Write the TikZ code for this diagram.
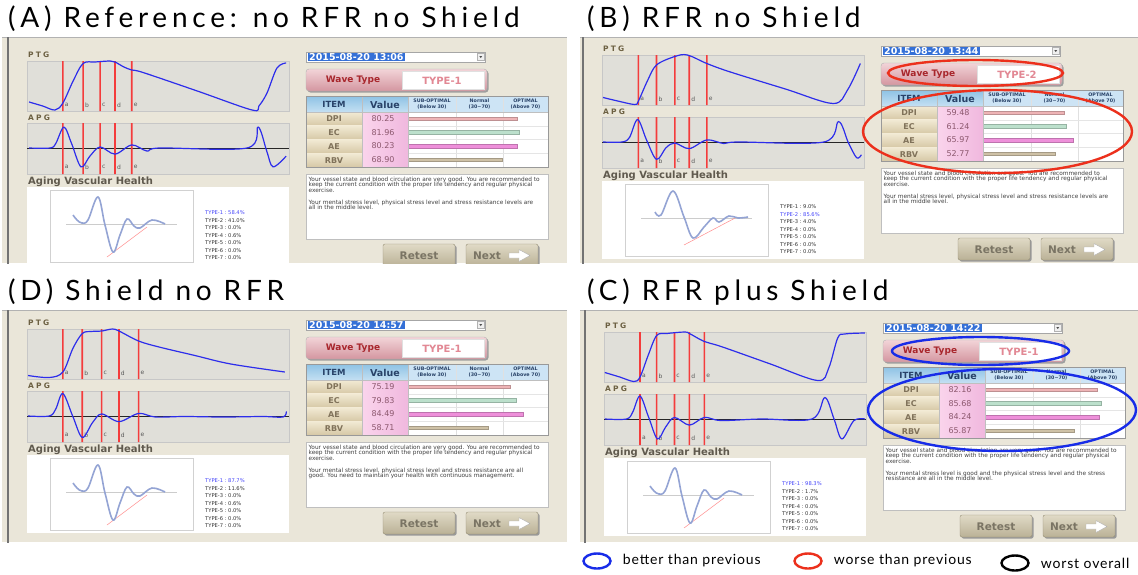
\documentclass[tikz,border=0pt]{standalone}
\usepackage{fontspec}
\setmainfont{DejaVu Sans}
\newfontfamily\titlefont[LetterSpace=17]{Lato}
\newfontfamily\legfont[LetterSpace=6]{Lato}
\usetikzlibrary{positioning,shapes.geometric}
\definecolor{framebg}{RGB}{234,230,217}
\definecolor{plotbg}{RGB}{224,223,217}
\definecolor{curve}{RGB}{45,45,235}
\definecolor{marker}{RGB}{244,60,60}
\definecolor{lbl}{RGB}{108,96,66}
\definecolor{lbltwo}{RGB}{96,90,78}
\definecolor{wave}{RGB}{148,164,212}
\definecolor{typeblue}{RGB}{70,70,250}
\definecolor{selblue}{RGB}{52,112,215}
\definecolor{wttop}{RGB}{242,212,216}
\definecolor{wtbot}{RGB}{212,150,160}
\definecolor{wtred}{RGB}{168,38,44}
\definecolor{wtpink}{RGB}{226,136,148}
\definecolor{hdrtop}{RGB}{142,194,228}
\definecolor{hdrbot}{RGB}{196,224,243}
\definecolor{hdrlight}{RGB}{205,228,245}
\definecolor{hdrink}{RGB}{40,66,104}
\definecolor{itemtop}{RGB}{242,234,212}
\definecolor{itembot}{RGB}{214,200,166}
\definecolor{itemink}{RGB}{128,114,90}
\definecolor{valleft}{RGB}{250,212,236}
\definecolor{valright}{RGB}{240,184,222}
\definecolor{valink}{RGB}{140,88,110}
\definecolor{dpibar}{RGB}{238,180,182}
\definecolor{ecbar}{RGB}{188,224,204}
\definecolor{aebar}{RGB}{238,144,218}
\definecolor{rbvbar}{RGB}{206,193,166}
\definecolor{btntop}{RGB}{224,218,198}
\definecolor{btnbot}{RGB}{186,177,150}
\definecolor{btnedge}{RGB}{150,142,118}
\definecolor{btnink}{RGB}{122,116,100}
\definecolor{annred}{RGB}{236,48,28}
\definecolor{annblue}{RGB}{24,44,232}
\tikzset{
  sect/.style={anchor=west,inner sep=0pt,text=lbl,font=\bfseries\fontsize{7.5}{7.5}\selectfont},
  plotbox/.style={fill=plotbg,draw=black!22,line width=0.8pt},
  markline/.style={fill=marker},
  peak/.style={anchor=west,inner sep=0pt,text=black!65,font=\fontsize{6}{6}\selectfont},
  pulse/.style={draw=curve,line width=1.2pt},
  typ/.style={anchor=west,inner sep=0pt,font=\fontsize{5.2}{5.2}\selectfont},
  cell/.style={inner sep=0pt,font=\bfseries\fontsize{8}{8}\selectfont},
  note/.style={anchor=north west,inner sep=0pt,align=left,text=black!75,font=\fontsize{5.8}{5.75}\selectfont},
  btnbox/.style={rounded corners=2pt,draw=btnedge,top color=btntop,bottom color=btnbot},
  btntxt/.style={inner sep=0pt,text=btnink,font=\bfseries\fontsize{10.5}{10.5}\selectfont},
  ttl/.style={anchor=west,inner sep=0pt,font=\titlefont\fontsize{28}{28}\selectfont},
  ring/.style={ellipse,draw,line width=2.4pt,inner sep=0pt},
  legtxt/.style={inner sep=0pt,font=\legfont\fontsize{14}{14}\selectfont}
}
% one screenshot of the analyser, data taken from \scr... macros
\newcommand\screen[2]{%
\begin{scope}[shift={#2}]
  \draw[black!55,line width=2pt] (8,-40) -- (8,300);
  % PTG and APG
  \node[sect] (#1ptg) at (28,55) {P\hspace{2.2pt}T\hspace{2.2pt}G};
  \draw[plotbox] (27,61) rectangle (289,111);
  \node[sect] (#1apg) at (28,118) {A\hspace{2.2pt}P\hspace{2.2pt}G};
  \draw[plotbox] (27,123) rectangle (289,174);
  \draw[black!85,line width=0.8pt] (27,148) -- (289,148);
  \foreach \m/\l in \scrmarks {
    \pgfmathsetmacro\mx{27+262*\m}
    \fill[markline] (\mx-0.8,61) rectangle (\mx+0.8,111) (\mx-0.8,123) rectangle (\mx+0.8,174);
    \node[peak] (#1u\l) at (\mx+1.8,105) {\l};
    \node[peak] (#1v\l) at (\mx+1.8,167) {\l};
  }
  \begin{scope}[shift={(27,61)},xscale=262,yscale=50]
    \edef\tmp{\noexpand\draw[pulse] plot[smooth,tension=0.55] coordinates {\scrptg};}\tmp
  \end{scope}
  \begin{scope}[shift={(27,123)},xscale=262,yscale=51]
    \edef\tmp{\noexpand\draw[pulse] plot[smooth,tension=0.55] coordinates {\scrapg};}\tmp
  \end{scope}
  % aging vascular health
  \node[sect,text=lbltwo,font=\bfseries\fontsize{10}{10}\selectfont] (#1age) at (28,182) {Aging Vascular Health};
  \fill[white] (27,187) rectangle (289,265);
  \draw[black!18,fill=white,line width=0.8pt] (50,190) rectangle (193,262);
  \draw[black!20] (66,224) -- (177,224);
  \edef\tmp{\noexpand\draw[red!45,line width=0.5pt] \scrtan;}\tmp
  \edef\tmp{\noexpand\draw[wave,line width=1.6pt] plot[smooth,tension=0.6] coordinates {\scrage};}\tmp
  \foreach \p [count=\k] in \scrpct {
    \ifnum\k=\scrbest\relax\def\tc{typeblue}\else\def\tc{black!80}\fi
    \node[typ,text=\tc] (#1type\k) at (205,{213+7.5*(\k-1)}) {TYPE-\k\ :\ \p\%};
  }
  % date and wave type
  \draw[black!35,fill=white] (306,52) rectangle (485,62);
  \node[anchor=west,inner xsep=1pt,inner ysep=0.6pt,fill=selblue,text=white,font=\bfseries\fontsize{9.5}{9.5}\selectfont] (#1date) at (308,57) {\scrdate};
  \draw[black!30,fill=black!6] (477.5,53.5) rectangle (484,60.5);
  \fill[black!70] (479.4,56.2) -- (482.1,56.2) -- (480.75,58) -- cycle;
  \fill[black!38,rounded corners=3pt] (307.5,70.5) rectangle (488.5,92.5);
  \draw[rounded corners=3pt,draw=black!30,top color=wttop,bottom color=wtbot] (306,69) rectangle (487,91);
  \draw[black!12,fill=white] (402,71) rectangle (484,89);
  \node[inner sep=0pt,text=wtred,font=\bfseries\fontsize{9}{9}\selectfont] (#1wave) at (353,80.5) {Wave Type};
  \node[inner sep=0pt,text=wtpink,font=\bfseries\fontsize{10}{10}\selectfont] (#1wavet) at (442,80.5) {\scrtype};
  % result table
  \shade[top color=hdrtop,bottom color=hdrbot] (306,96) rectangle (408,112);
  \fill[hdrlight] (408,96) rectangle (548,112);
  \fill[white] (408,112) rectangle (548,167);
  \draw[black!12] (456,96) -- (456,167) (503,96) -- (503,167);
  \node[cell,text=hdrink,font=\bfseries\fontsize{8.5}{8.5}\selectfont] (#1item) at (334,104.5) {ITEM};
  \node[cell,text=hdrink,font=\bfseries\fontsize{9.5}{9.5}\selectfont] (#1value) at (385,104.5) {Value};
  \foreach \ha/\hb/\cx [count=\k] in {{SUB-OPTIMAL}/{(Below 30)}/432,{Normal}/{(30\textasciitilde70)}/479.5,{OPTIMAL}/{(Above 70)}/525.5}
    \node[cell,align=center,text=hdrink,font=\bfseries\fontsize{4.8}{5.8}\selectfont] (#1h\k) at (\cx,104) {\ha\\\hb};
  \foreach \v [count=\k] in \scrvals {
    \pgfmathsetmacro\ry{112+13.75*(\k-1)}
    \pgfmathsetmacro\bw{1.36*\v}
    \edef\bc{\ifcase\k\or dpibar\or ecbar\or aebar\or rbvbar\fi}
    \shade[top color=itemtop,bottom color=itembot] (306,\ry) rectangle (362,\ry+13.75);
    \shade[left color=valleft,right color=valright] (362,\ry) rectangle (408,\ry+13.75);
    \draw[black!10] (408,\ry+13.75) -- (548,\ry+13.75);
    \node[cell,text=itemink] (#1n\k) at (334,\ry+7) {\ifcase\k\or DPI\or EC\or AE\or RBV\fi};
    \node[cell,text=valink,font=\fontsize{8}{8}\selectfont] (#1val\k) at (383,\ry+6.5) {\v};
    \draw[fill=\bc,draw=\bc!80!black,line width=0.4pt] (408,\ry+4.8) rectangle ++(\bw,3.4);
  }
  \draw[black!25] (362,96) -- (362,167) (408,96) -- (408,167) (306,112) -- (548,112);
  \draw[black!40,line width=1pt] (306,96) rectangle (548,167);
  % comment and buttons
  \draw[black!25,fill=white] (306,174) rectangle (548,239);
  \node[note] (#1note) at (308.5,176.5) {\scrnote};
  \foreach \bx/\bt/\tx in {383/Retest/419,466/Next/487} {
    \fill[black!40,rounded corners=2pt] (\bx+1.5,245.5) rectangle (\bx+73.5,267.5);
    \draw[btnbox] (\bx,244) rectangle (\bx+72,266);
    \node[btntxt] (#1\bt) at (\tx,255.5) {\bt};
  }
  \draw[black!30,fill=white] (509,253) -- (519,253) -- (519,249.5) -- (530,255.5) -- (519,261.5) -- (519,258) -- (509,258) -- cycle;
\end{scope}}

\def\agestd{(73,215) (77,220) (82,223) (88,220) (98,197) (105,225) (113,252) (120,235) (127,219) (134,226) (140,228) (152,220) (165,224)}
\def\firstpar{Your vessel state and blood circulation are very good. You are recommended to\\keep the current condition with the proper life tendency and regular physical\\exercise.\\[5.75pt]}

\begin{document}
\begin{tikzpicture}[x=1pt,y=-1pt]
\useasboundingbox (0,0) rectangle (1138,574);
\fill[white] (0,0) rectangle (1138,574);

% (A)
\node[ttl] (ta) at (8,19) {(A)\hspace{12pt}Reference: no RFR no Shield};
\begin{scope}
  \clip (2,37) rectangle (567,263);
  \fill[framebg] (2,37) rectangle (567,263);
  \draw[black!30,line width=1.5pt] (2,37.5) -- (567,37.5);
  \def\scrdate{2015-08-20 13:06}\def\scrtype{TYPE-1}
  \def\scrvals{80.25,81.96,80.23,68.90}
  \def\scrpct{58.4,41.0,0.0,0.6,0.0,0.0,0.0}\def\scrbest{1}
  \def\scrmarks{0.137/a,0.214/b,0.279/c,0.336/d,0.4/e}
  \def\scrptg{(0.008,0.82) (0.06,0.9) (0.107,0.98) (0.137,0.84) (0.176,0.4) (0.214,0.05) (0.26,0.02) (0.317,0) (0.336,0.02) (0.37,0.12) (0.4,0.18) (0.443,0.23) (0.65,0.6) (0.859,0.98) (0.885,0.9) (0.916,0.64) (0.954,0.14) (0.989,0.04)}
  \def\scrapg{(0.008,0.49) (0.088,0.49) (0.11,0.4) (0.141,0.08) (0.17,0.4) (0.206,0.86) (0.24,0.65) (0.279,0.47) (0.336,0.61) (0.4,0.43) (0.458,0.55) (0.508,0.49) (0.84,0.49) (0.882,0.08) (0.915,0.55) (0.939,0.86) (0.989,0.65)}
  \let\scrage\agestd\def\scrtan{(107,257) -- (147,227)}
  \def\scrnote{\firstpar Your mental stress level, physical stress level and stress resistance levels are\\all in the middle level.}
  \screen{a}{(0,0)}
\end{scope}

% (B)
\node[ttl] (tb) at (587,19) {(B)\hspace{12pt}RFR no Shield};
\begin{scope}
  \clip (580,37) rectangle (1138,263);
  \fill[framebg] (580,37) rectangle (1138,263);
  \draw[black!30,line width=1.5pt] (580,37.5) -- (1138,37.5);
  \def\scrdate{2015-08-20 13:44}\def\scrtype{TYPE-2}
  \def\scrvals{59.48,61.24,65.97,52.77}
  \def\scrpct{9.0,85.6,4.0,0.0,0.0,0.0,0.0}\def\scrbest{2}
  \def\scrmarks{0.139/a,0.208/b,0.278/c,0.333/d,0.4/e}
  \def\scrptg{(0.004,0.85) (0.06,0.92) (0.125,0.99) (0.139,0.92) (0.174,0.51) (0.208,0.2) (0.278,0.03) (0.326,0) (0.4,0.17) (0.49,0.34) (0.7,0.68) (0.882,0.97) (0.937,0.7) (0.986,0.17)}
  \def\scrapg{(0.004,0.49) (0.076,0.49) (0.105,0.4) (0.136,0.05) (0.17,0.45) (0.208,0.83) (0.245,0.6) (0.278,0.51) (0.333,0.62) (0.4,0.45) (0.465,0.52) (0.52,0.49) (0.847,0.49) (0.903,0.09) (0.94,0.5) (0.972,0.8) (0.99,0.74)}
  \def\scrage{(80,218) (86,221) (98,197) (109,223) (118,244) (129,233) (138,224) (144,228) (154,222) (163,224) (173,223)}
  \def\scrtan{(109,251) -- (162,223)}
  \def\scrnote{Your vessel state and blood circulation are good. You are recommended to\\keep the current condition with the proper life tendency and regular physical\\exercise.\\[5.75pt]Your mental stress level, physical stress level and stress resistance levels are\\all in the middle level.}
  \screen{b}{(575,-6)}
\end{scope}
\node[ring,draw=annred,minimum width=175,minimum height=26] (bwave) at (975.5,73) {};
\node[ring,draw=annred,minimum width=269,minimum height=83] (btable) at (997.5,131.5) {};

% (D)
\node[ttl] (td) at (8,292) {(D)\hspace{12pt}Shield no RFR};
\begin{scope}
  \clip (2,310) rectangle (567,542);
  \fill[framebg] (2,310) rectangle (567,542);
  \draw[black!30,line width=1.5pt] (2,310.5) -- (567,310.5);
  \def\scrdate{2015-08-20 14:57}\def\scrtype{TYPE-1}
  \def\scrvals{75.19,79.83,84.49,58.71}
  \def\scrpct{87.7,11.6,0.0,0.6,0.0,0.0,0.0}\def\scrbest{1}
  \def\scrmarks{0.137/a,0.211/b,0.285/c,0.351/d,0.426/e}
  \def\scrptg{(0.004,0.93) (0.085,0.97) (0.137,0.86) (0.175,0.39) (0.211,0.09) (0.244,0.05) (0.285,0.04) (0.326,0) (0.351,0.04) (0.426,0.24) (0.504,0.36) (0.641,0.53) (0.778,0.7) (0.984,0.86)}
  \def\scrapg{(0.004,0.49) (0.085,0.49) (0.11,0.35) (0.137,0.05) (0.175,0.5) (0.211,0.91) (0.25,0.62) (0.285,0.45) (0.351,0.6) (0.426,0.44) (0.49,0.51) (0.6,0.5) (0.75,0.51) (0.9,0.5) (0.977,0.51) (0.99,0.4)}
  \let\scrage\agestd\def\scrtan{(107,257) -- (147,227)}
  \def\scrnote{\firstpar Your mental stress level, physical stress level and stress resistance are all\\good. You need to maintain your health with continuous management.}
  \screen{d}{(0,268)}
\end{scope}

% (C)
\node[ttl] (tc) at (587,292) {(C)\hspace{12pt}RFR plus Shield};
\begin{scope}
  \clip (580,310) rectangle (1138,542);
  \fill[framebg] (580,310) rectangle (1138,542);
  \draw[black!30,line width=1.5pt] (580,310.5) -- (1138,310.5);
  \def\scrdate{2015-08-20 14:22}\def\scrtype{TYPE-1}
  \def\scrvals{82.16,85.68,84.24,65.87}
  \def\scrpct{98.3,1.7,0.0,0.0,0.0,0.0,0.0}\def\scrbest{1}
  \def\scrmarks{0.1375/a,0.201/b,0.269/c,0.326/d,0.383/e}
  \def\scrptg{(0.003,0.81) (0.06,0.9) (0.114,0.99) (0.1375,0.9) (0.169,0.46) (0.201,0.07) (0.24,0.03) (0.308,0) (0.326,0.03) (0.383,0.19) (0.447,0.29) (0.63,0.63) (0.815,0.97) (0.857,0.73) (0.892,0.12) (0.919,0.04) (0.996,0.02)}
  \def\scrapg{(0.003,0.49) (0.086,0.49) (0.11,0.35) (0.1375,0.04) (0.17,0.45) (0.204,0.88) (0.235,0.65) (0.269,0.46) (0.326,0.61) (0.383,0.46) (0.447,0.52) (0.6,0.49) (0.794,0.49) (0.843,0.07) (0.878,0.49) (0.908,0.88) (0.954,0.52) (0.996,0.49)}
  \let\scrage\agestd\def\scrtan{(107,257) -- (147,227)}
  \def\scrnote{\firstpar Your mental stress level is good and the physical stress level and the stress\\resistance are all in the middle level.}
  \screen{c}{(577,271)}
\end{scope}
\node[ring,draw=annblue,minimum width=177,minimum height=28] (cwave) at (980.5,351) {};
\node[ring,draw=annblue,minimum width=268,minimum height=82] (ctable) at (1002,410) {};

% legend
\node[ring,draw=annblue,minimum width=27,minimum height=15] (lgb) at (597,561) {};
\node[legtxt,anchor=west,right=11 of lgb] (lgbt) {better than previous};
\node[ring,draw=annred,minimum width=27,minimum height=15] (lgr) at (808,561) {};
\node[legtxt,anchor=west,right=11 of lgr] (lgrt) {worse than previous};
\node[ring,draw=black,minimum width=27,minimum height=15] (lgk) at (1015,563) {};
\node[legtxt,anchor=west,right=11 of lgk] (lgkt) {worst overall};
\end{tikzpicture}
\end{document}
